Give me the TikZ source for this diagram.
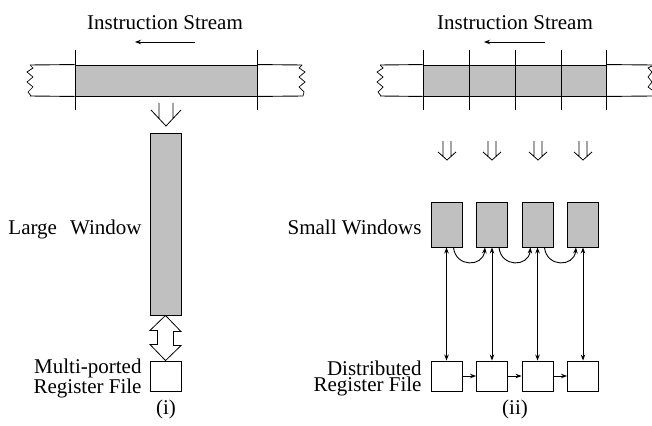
\documentclass[tikz,border=0pt]{standalone}
\usepackage{fontspec}
\setmainfont{Liberation Serif}
\newfontfamily\tmsfont{Liberation Serif}
\usetikzlibrary{arrows.meta}
\definecolor{boxgray}{HTML}{C0C0C0}
\begin{document}
\begin{tikzpicture}[x=1pt,y=-1pt,line width=0.9pt,
  graybox/.style={draw,fill=boxgray,inner sep=0,minimum width=31pt},
  whitebox/.style={draw,fill=white,inner sep=0,minimum width=31pt,minimum height=30pt},
  lbl/.style={font=\tmsfont\fontsize{21}{15.5}\selectfont,inner sep=0,align=right},
  tip/.style={-{Stealth[length=6pt,width=4.5pt]}},
  dtip/.style={{Stealth[length=6pt,width=4.5pt]}-{Stealth[length=6pt,width=4.5pt]}}]
\useasboundingbox (0,0) rectangle (652,425);

% ---------- left panel ----------
\node[lbl] (t1) at (165,23) {Instruction Stream};
\coordinate (a1s) at (195,42); \coordinate (a1e) at (135,42);
\draw[tip] (a1s) -- (a1e);
\node[draw,fill=boxgray,inner sep=0,minimum width=182pt,minimum height=31pt] (lband) at (166,80.5) {};
\draw (30,65) -- (lband.north west) (lband.north east) -- (302,65);
\draw (30,96) -- (lband.south west) (lband.south east) -- (303,96);
\draw (75,50) -- (75,110) (257,50) -- (257,110);
\draw[line width=0.7pt] (30,65)--(33,68)--(27,72)--(33,77)--(27,82)--(33,87)--(28,92)--(31,96);
\draw[line width=0.7pt] (302,65)--(299,68)--(305,72)--(299,77)--(305,82)--(299,87)--(304,92)--(303,96);
% hollow arrow
\draw[line width=0.8pt] (159,103)--(159,118.5)--(151,110)--(166,126)--(181,110)--(173,118.5)--(173,103);
\node[graybox,minimum height=182pt] (lw) at (165.5,224) {};
\node[whitebox] (lr) at (165.5,376) {};
\draw[line width=0.8pt,fill=white] (lw.south)--++(-15.5,15)--++(7.5,0)--++(0,14)--++(-7.5,0)--(lr.north)
  --++(15.5,-15)--++(-7.5,0)--++(0,-14)--++(7.5,0)--cycle;
\node[lbl,anchor=base east] (lwl) at (142,234) {Large\hspace{0.62em}Window};
\node[lbl,anchor=east] (lrl) at (142,378.5) {Multi-ported\\Register File};
\node[lbl] (c1) at (166,409) {(i)};

% ---------- right panel ----------
\node[lbl] (t2) at (515,23) {Instruction Stream};
\coordinate (a2s) at (545,42); \coordinate (a2e) at (484,42);
\draw[tip] (a2s) -- (a2e);
\node[draw,fill=boxgray,inner sep=0,minimum width=183pt,minimum height=31pt] (rband) at (514.5,80.5) {};
\draw (380,65) -- (rband.north west) (rband.north east) -- (652,65);
\draw (380,96) -- (rband.south west) (rband.south east) -- (652,96);
\foreach \x in {423,469,515,561,606} \draw (\x,50) -- (\x,110);
\draw[line width=0.7pt] (380,65)--(383,68)--(377,72)--(383,77)--(377,82)--(383,87)--(378,92)--(381,96);
\draw[line width=0.7pt] (652,66)--(648,68)--(652,72)--(648,77)--(652,82)--(648,87)--(652,90);
% small hollow arrows
\foreach \c in {447,492,538,583}
  \draw[line width=0.8pt] (\c-4,141)--(\c-4,156.4)--(\c-9,152)--(\c,160)--(\c+9,152)--(\c+4,156.4)--(\c+4,141);
% windows and register boxes
\foreach \i/\x in {1/446.5,2/492,3/537.5,4/583} {
  \node[graybox,minimum height=45pt] (sw\i) at (\x,224.5) {};
  \node[whitebox] (r\i) at (\x,376) {};
  \draw[dtip] (sw\i.south) -- (r\i.north);
}
\foreach \i/\j in {1/2,2/3,3/4} {
  \draw[tip] ([xshift=7pt]sw\i.south) .. controls +(2,20) and +(-2,20) .. ([xshift=-7pt]sw\j.south);
  \draw[tip] (r\i.east) -- (r\j.west);
}
\node[lbl,anchor=base east] (swl) at (422,234) {Small Windows};
\node[lbl,anchor=east] (rl) at (422,378.5) {Distributed\\Register File};
\node[lbl] (c2) at (515,409) {(ii)};
\end{tikzpicture}
\end{document}
